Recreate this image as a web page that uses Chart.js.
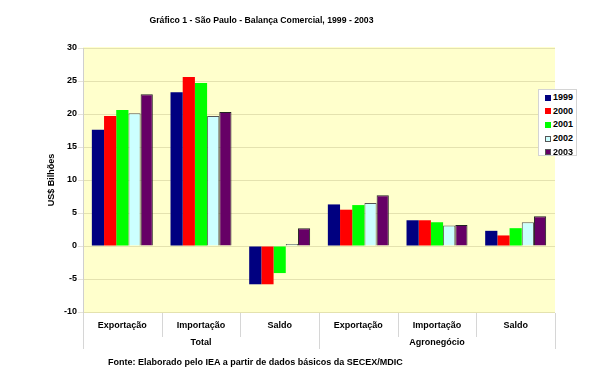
<!DOCTYPE html>
<html>
<head>
<meta charset="utf-8">
<script src="https://cdn.jsdelivr.net/npm/chart.js@4"></script>
<style>
html,body{margin:0;padding:0;background:#fff;}
#wrap{position:relative;width:601px;height:374px;font-family:"Liberation Sans",Arial,sans-serif;font-weight:bold;font-size:9px;color:#000;}
canvas{position:absolute;left:0;top:0;}
#title{position:absolute;left:0;width:523px;top:15px;text-align:center;font-size:8.7px;white-space:nowrap;}
#fonte{position:absolute;left:108px;top:357px;white-space:nowrap;}
#legend{position:absolute;left:538px;top:89px;width:39px;height:67px;background:#fff;border:1px solid #d4d4d4;box-sizing:border-box;padding-top:1px;}
.li{height:13.7px;line-height:13.7px;white-space:nowrap;position:relative;}
.sw{position:absolute;left:6px;top:3.5px;width:6px;height:6px;box-sizing:border-box;}
.lt{position:absolute;left:14px;top:0;}
</style>
</head>
<body>
<div id="wrap">
<canvas id="c" width="601" height="374"></canvas>
<div id="title">Gráfico 1 - São Paulo - Balança Comercial, 1999 - 2003</div>
<div id="legend"></div>
<div id="fonte">Fonte: Elaborado pelo IEA a partir de dados básicos da SECEX/MDIC</div>
</div>
<script>
const categories = ["Exportação","Importação","Saldo","Exportação","Importação","Saldo"];
const groups = ["Total","Agronegócio"];
const years = ["1999","2000","2001","2002","2003"];
const v1999 = [17.6, 23.3, -5.8, 6.3, 3.9, 2.3];
const v2000 = [19.7, 25.6, -5.8, 5.5, 3.9, 1.6];
const v2001 = [20.6, 24.7, -4.1, 6.2, 3.6, 2.7];
const v2002 = [20.1, 19.7, 0.3, 6.5, 3.1, 3.6];
const v2003 = [23.0, 20.3, 2.7, 7.7, 3.2, 4.5];
const yTicks = [30,25,20,15,10,5,0,-5,-10];

const series = [v1999, v2000, v2001, v2002, v2003];
const fills = ["#000080","#ff0000","#00ff00","#ccffff","#660066"];
const borders = ["#000080","#ff0000","#00ff00","#555555","#222222"];
const bws = [0,0,0,1,1];

Chart.defaults.font.family = '"Liberation Sans", Arial, sans-serif';
Chart.defaults.font.weight = 'bold';
Chart.defaults.font.size = 9;
Chart.defaults.color = '#000';

const bgPlugin = {
  id: 'bg',
  beforeDraw(chart) {
    const a = chart.chartArea, ctx = chart.ctx;
    ctx.save();
    ctx.fillStyle = '#ffffcc';
    ctx.fillRect(a.left, a.top - 1, a.right - a.left, a.bottom - a.top + 2);
    ctx.restore();
  }
};
const sepPlugin = {
  id: 'sep',
  afterDraw(chart) {
    const x = chart.scales.x, ctx = chart.ctx;
    const n = categories.length, w = (x.right - x.left) / n;
    const top = x.top + 1;
    ctx.save();
    ctx.strokeStyle = '#d6d6d6';
    ctx.lineWidth = 1;
    for (let i = 0; i <= n; i++) {
      const px = Math.round(x.left + i * w) + 0.5;
      const outer = (i % 3 === 0);
      ctx.beginPath();
      ctx.moveTo(px, top);
      ctx.lineTo(px, outer ? top + 36 : top + 24);
      ctx.stroke();
    }
    ctx.fillStyle = '#000';
    ctx.textAlign = 'center';
    ctx.textBaseline = 'middle';
    ctx.font = 'bold 9px "Liberation Sans", Arial, sans-serif';
    groups.forEach((g, gi) => {
      const cx = x.left + (gi * 3 + 1.5) * w;
      ctx.fillText(g, cx, top + 30);
    });
    categories.forEach((c, i) => {
      ctx.fillText(c, x.left + (i + 0.5) * w, top + 12.5);
    });
    ctx.restore();
  }
};

new Chart(document.getElementById('c'), {
  type: 'bar',
  data: {
    labels: categories,
    datasets: years.map((y, i) => ({
      label: y,
      data: series[i],
      backgroundColor: fills[i],
      borderColor: borders[i],
      borderWidth: bws[i],
      categoryPercentage: 0.775,
      barPercentage: 1.0
    }))
  },
  options: {
    responsive: false,
    animation: false,
    devicePixelRatio: 1,
    layout: { padding: { left: 44, right: 46, top: 48, bottom: 25 } },
    plugins: { legend: { display: false }, title: { display: false }, tooltip: { enabled: false } },
    scales: {
      x: {
        grid: { display: false },
        border: { display: false },
        ticks: { display: false },
        afterFit(s) { s.height = 37; }
      },
      y: {
        min: -10, max: 30,
        afterFit(s) { s.width = 39; },
        afterBuildTicks(s) { s.ticks = yTicks.map(v => ({ value: v })); },
        ticks: { padding: 1, color: '#000', font: { size: 9, weight: 'bold' } },
        grid: { color: 'rgba(120,110,60,0.2)', tickLength: 5 },
        border: { color: '#cfcfcf' },
        title: { display: true, text: 'US$ Bilhões', padding: { top: 2.5, bottom: 0 }, font: { size: 9, weight: 'bold' } }
      }
    }
  },
  plugins: [bgPlugin, sepPlugin]
});

const leg = document.getElementById('legend');
years.forEach((y, i) => {
  const d = document.createElement('div');
  d.className = 'li';
  d.innerHTML = '<span class="sw" style="background:' + fills[i] + ';border:1px solid ' + (bws[i] ? '#555' : fills[i]) + '"></span><span class="lt">' + y + '</span>';
  leg.appendChild(d);
});
</script>
</body>
</html>
